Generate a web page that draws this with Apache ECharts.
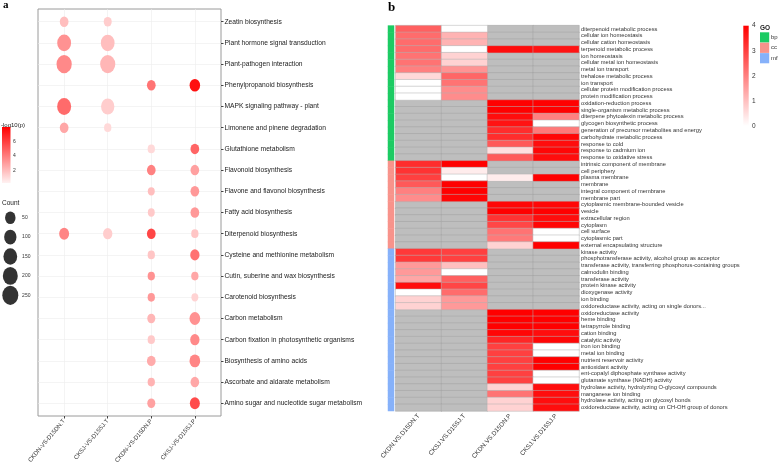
<!DOCTYPE html>
<html><head><meta charset="utf-8">
<script src="https://cdn.jsdelivr.net/npm/echarts@6/dist/echarts.min.js"></script>
<style>html,body{margin:0;padding:0;background:#fff}#c{width:778px;height:466px}</style>
</head><body><div id="c"></div>
<script>
// ---------- Panel a : KEGG bubble chart ----------
const pathways = ['Zeatin biosynthesis','Plant hormone signal transduction','Plant-pathogen interaction','Phenylpropanoid biosynthesis','MAPK signaling pathway - plant','Limonene and pinene degradation','Glutathione metabolism','Flavonoid biosynthesis','Flavone and flavonol biosynthesis','Fatty acid biosynthesis','Diterpenoid biosynthesis','Cysteine and methionine metabolism','Cutin, suberine and wax biosynthesis','Carotenoid biosynthesis','Carbon metabolism','Carbon fixation in photosynthetic organisms','Biosynthesis of amino acids','Ascorbate and aldarate metabolism','Amino sugar and nucleotide sugar metabolism'];
const comparisonsA = ['CKDN-VS-D15DN.T','CKSJ-VS-D15SJ.T','CKDN-VS-D15DN.P','CKSJ-VS-D15SJ.P'];
// gene count per pathway (rows) and comparison (columns); null = not shown
const bubbleCount = [
  [18,10,null,null],[155,150,null,null],[215,210,null,null],[null,null,18,50],
  [160,133,null,null],[18,4,null,null],[null,null,4,18],[null,null,18,18],
  [null,null,2,18],[null,null,2,18],[39,27,18,4],[null,null,4,27],
  [null,null,4,4],[null,null,4,2],[null,null,10,55],[null,null,4,27],
  [null,null,18,55],[null,null,4,18],[null,null,10,39]];
// -log10(p)
const bubbleLogP = [
  [1.96,1.48,null,null],[3.35,1.96,null,null],[3.65,2.2,null,null],[null,null,4.3,7.5],
  [4.6,1.48,null,null],[2.69,1.1,null,null],[null,null,1.1,4.8],[null,null,3.9,2.9],
  [null,null,1.96,3.17],[null,null,1.6,3.17],[3.77,1.48,5.77,1.72],[null,null,1.72,4.38],
  [null,null,3.35,2.69],[null,null,3.17,1.3],[null,null,2.2,3.4],[null,null,1.6,3.65],
  [null,null,2.56,3.77],[null,null,2.3,2.69],[null,null,2.87,5.6]];
const countBreaks = [50,100,150,200,250];
const logPTicks = [6,4,2];
const logPMin = 0.3, logPMax = 8;

// ---------- Panel b : GO heatmap ----------
const comparisonsB = ['CKDN.VS.D15DN.T','CKSJ.VS.D15SJ.T','CKDN.VS.D15DN.P','CKSJ.VS.D15SJ.P'];
const termsBP = ['diterpenoid metabolic process','cellular ion homeostasis','cellular cation homeostasis','terpenoid metabolic process','ion homeostasis','cellular metal ion homeostasis','metal ion transport','trehalose metabolic process','ion transport','cellular protein modification process','protein modification process','oxidation-reduction process','single-organism metabolic process','diterpene phytoalexin metabolic process','glycogen biosynthetic process','generation of precursor metabolites and energy','carbohydrate metabolic process','response to cold','response to cadmium ion','response to oxidative stress'];
const heatBP = [
  [2.5,0,null,null],[2.3,1.2,null,null],[2.3,1.2,null,null],[2.3,0,3.8,3.7],
  [2.2,0.7,null,null],[2.2,0.7,null,null],[2.0,1.7,null,null],[0.6,2.4,null,null],
  [0,2.2,null,null],[0,1.8,null,null],[0,1.8,null,null],[null,null,4,4],
  [null,null,4,4],[null,null,3.8,2.0],[null,null,3.7,0],[null,null,3.3,2.1],
  [null,null,3.3,3.9],[null,null,2.6,3.8],[null,null,0.5,3.9],[null,null,2.6,3.8]];
const termsCC = ['intrinsic component of membrane','cell periphery','plasma membrane','membrane','integral component of membrane','membrane part','cytoplasmic membrane-bounded vesicle','vesicle','extracellular region','cytoplasm','cell surface','cytoplasmic part','external encapsulating structure'];
const heatCC = [
  [3.3,4,null,null],[3.2,0.3,null,null],[3.0,0,0.3,4],[2.6,4,null,null],
  [2.0,4,null,null],[1.8,3.9,null,null],[null,null,3.9,3.9],[null,null,4,4],
  [null,null,3.2,3.8],[null,null,2.9,3.9],[null,null,2.2,0],[null,null,2.1,0],[null,null,0.7,4]];
const termsMF = ['kinase activity','phosphotransferase activity, alcohol group as acceptor','transferase activity, transferring phosphorus-containing groups','calmodulin binding','transferase activity','protein kinase activity','dioxygenase activity','ion binding','oxidoreductase activity, acting on single donors...','oxidoreductase activity','heme binding','tetrapyrrole binding','cation binding','catalytic activity','iron ion binding','metal ion binding','nutrient reservoir activity','antioxidant activity','ent-copalyl diphosphate synthase activity','glutamate synthase (NADH) activity','hydrolase activity, hydrolyzing O-glycosyl compounds','manganese ion binding','hydrolase activity, acting on glycosyl bonds','oxidoreductase activity, acting on CH-OH group of donors'];
const heatMF = [
  [3.1,3.0,null,null],[3.1,3.0,null,null],[1.6,1.0,null,null],[1.6,0,null,null],
  [1.4,2.5,null,null],[3.8,2.9,null,null],[0,2.3,null,null],[0.7,1.6,null,null],
  [0.7,1.6,null,null],[null,null,4,4],[null,null,4,4],[null,null,4,4],
  [null,null,3.9,3.8],[null,null,3.4,3.9],[null,null,3.0,0],[null,null,3.0,0],
  [null,null,3.0,4],[null,null,3.0,4],[null,null,3.0,0],[null,null,3.0,0],
  [null,null,0.7,3.8],[null,null,2.2,3.8],[null,null,0.7,3.8],[null,null,0.7,3.8]];
const goClasses = ['bp','cc','mf'];
const goColors = ['#1ccb63','#f8938b','#86b1fa'];
const heatTicks = [0,1,2,3,4];

// ---------- build ----------
const FONT = 'Liberation Sans, Arial, sans-serif';
function bubbleD(c){ return 6.05 + 0.629*Math.sqrt(c); }
const bubbleData = [];
bubbleCount.forEach((row,i)=>row.forEach((c,j)=>{ if(c!=null) bubbleData.push([j+1,i+1,c,bubbleLogP[i][j]]); }));

const terms = termsBP.concat(termsCC, termsMF);
const heatAll = heatBP.concat(heatCC, heatMF);
const goOf = termsBP.map(()=>0).concat(termsCC.map(()=>1), termsMF.map(()=>2));
const heatVals = [], heatNA = [], goBar = [];
heatAll.forEach((row,i)=>{
  row.forEach((v,j)=>{ if(v==null) heatNA.push([j,i,0]); else heatVals.push([j,i,v]); });
  goBar.push([0,i,goOf[i]]);
});

const idx = n => Array.from({length:n},(_,k)=>k+1);

// legend geometry (non-data)
const lgA = {x:2, y:127, w:8.5, h:56};
const lgB = {x:743.3, y:25.7, w:5.4, h:100.3};
const graphics = [
  {type:'text', left:3, top:0, style:{text:'a', font:'bold 11px "Liberation Serif", serif', fill:'#000'}},
  {type:'text', left:388, top:1, style:{text:'b', font:'bold 13px "Liberation Serif", serif', fill:'#000'}},
  {type:'text', x:1, y:125, style:{text:'-log10(p)', font:'6px '+FONT, fill:'#222', verticalAlign:'middle'}},
  {type:'rect', shape:{x:lgA.x,y:lgA.y,width:lgA.w,height:lgA.h}, style:{fill:new echarts.graphic.LinearGradient(0,0,0,1,[{offset:0,color:'#ff0000'},{offset:1,color:'#fff2f2'}])}},
  {type:'text', x:2, y:203, style:{text:'Count', font:'6.5px '+FONT, fill:'#222', verticalAlign:'middle'}},
  {type:'rect', shape:{x:lgB.x,y:lgB.y,width:lgB.w,height:lgB.h}, style:{fill:new echarts.graphic.LinearGradient(0,0,0,1,[{offset:0,color:'#ff0000'},{offset:1,color:'#ffffff'}])}},
  {type:'text', x:760, y:28, style:{text:'GO', font:'bold 6.5px '+FONT, fill:'#222', verticalAlign:'middle'}}
];
logPTicks.forEach(t=>graphics.push({type:'text', x:13, y:lgA.y+lgA.h-(t-logPMin)/(logPMax-logPMin)*lgA.h, style:{text:String(t), font:'5px '+FONT, fill:'#333', verticalAlign:'middle'}}));
heatTicks.forEach(t=>graphics.push({type:'text', x:752, y:lgB.y+lgB.h-t/4*lgB.h, style:{text:String(t), font:'6.5px '+FONT, fill:'#333', verticalAlign:'middle'}}));
goClasses.forEach((g,k)=>{
  graphics.push({type:'rect', shape:{x:760,y:32.3+k*10.4,width:9.2,height:10.2}, style:{fill:goColors[k]}});
  graphics.push({type:'text', x:771, y:37.4+k*10.4, style:{text:g, font:'6px '+FONT, fill:'#333', verticalAlign:'middle'}});
});

const gridLineStyle = {color:'#ededed', width:0.6, type:'solid'};
const option = {
  animation:false,
  backgroundColor:'#fff',
  textStyle:{fontFamily:FONT},
  grid:[
    {left:38, top:9, width:183, height:407, show:true, borderColor:'#9a9a9a', borderWidth:1, backgroundColor:'transparent'},
    {left:0, top:208, width:20.6, height:97},
    {left:395.7, top:25.6, width:183.3, height:385.4},
    {left:388, top:25.6, width:6, height:385.4}
  ],
  xAxis:[
    {type:'value', gridIndex:0, min:0.4, max:4.6, splitLine:{show:false}, axisLine:{show:false},
     axisTick:{show:true, length:2.5, customValues:idx(4), lineStyle:{color:'#444'}},
     axisLabel:{customValues:idx(4), formatter:v=>comparisonsA[Math.round(v)-1], rotate:50, fontSize:6, color:'#333', margin:4}},
    {type:'value', gridIndex:1, min:0, max:2, show:false},
    {type:'category', gridIndex:2, data:comparisonsB, axisLine:{show:false}, axisTick:{show:false},
     axisLabel:{interval:0, rotate:49, fontSize:6.3, color:'#333', margin:4}},
    {type:'category', gridIndex:3, data:['GO'], show:false}
  ],
  yAxis:[
    {type:'value', gridIndex:0, min:0.4, max:19.6, inverse:true, position:'right', splitLine:{show:false}, axisLine:{show:false},
     axisTick:{show:true, length:2.5, customValues:idx(19), lineStyle:{color:'#444'}},
     axisLabel:{customValues:idx(19), formatter:v=>pathways[Math.round(v)-1], fontSize:6.7, color:'#222', margin:3.5}},
    {type:'category', gridIndex:1, data:countBreaks.map(String), inverse:true, position:'right',
     axisLine:{show:false}, axisTick:{show:false}, axisLabel:{fontSize:5, color:'#333', margin:1.5}},
    {type:'category', gridIndex:2, data:terms, inverse:true, position:'right', axisLine:{show:false}, axisTick:{show:false},
     axisLabel:{interval:0, fontSize:5.75, color:'#333', margin:2}},
    {type:'category', gridIndex:3, data:terms, inverse:true, show:false}
  ],
  visualMap:[
    {type:'continuous', show:false, seriesIndex:1, dimension:3, min:logPMin, max:logPMax, inRange:{color:['#fff2f2','#ff0000']}},
    {type:'continuous', show:false, seriesIndex:4, dimension:2, min:0, max:4, inRange:{color:['#ffffff','#ff0000']}},
    {type:'continuous', show:false, seriesIndex:3, dimension:2, min:0, max:1, inRange:{color:['#bebebe','#bebebe']}},
    {type:'piecewise', show:false, seriesIndex:5, dimension:2, pieces:goColors.map((c,k)=>({value:k, color:c}))}
  ],
  series:[
    {type:'scatter', xAxisIndex:0, yAxisIndex:0, data:[], z:1, silent:true,
     markLine:{z:0, zlevel:0, silent:true, symbol:'none', label:{show:false}, lineStyle:gridLineStyle, animation:false,
       data: idx(19).map(v=>({yAxis:v})).concat(idx(4).map(v=>({xAxis:v})))}},
    {type:'scatter', xAxisIndex:0, yAxisIndex:0, z:10, data:bubbleData,
     symbolSize: v=>{const d=bubbleD(v[2]); return [d, d*1.2];}, itemStyle:{opacity:1}},
    {type:'scatter', xAxisIndex:1, yAxisIndex:1, data:countBreaks.map(c=>[1,String(c),c]),
     symbolSize: v=>{const d=bubbleD(v[2]); return [d, d*1.2];}, itemStyle:{color:'#000'}},
    {type:'heatmap', xAxisIndex:2, yAxisIndex:2, data:heatNA, itemStyle:{borderColor:'#a3a3a3', borderWidth:0.5}},
    {type:'heatmap', xAxisIndex:2, yAxisIndex:2, data:heatVals, itemStyle:{borderColor:'#b0b0b0', borderWidth:0.5}},
    {type:'heatmap', xAxisIndex:3, yAxisIndex:3, data:goBar}
  ],
  graphic:graphics
};
const chart = echarts.init(document.getElementById('c'), null, {renderer:'canvas'});
chart.setOption(option);
</script></body></html>
